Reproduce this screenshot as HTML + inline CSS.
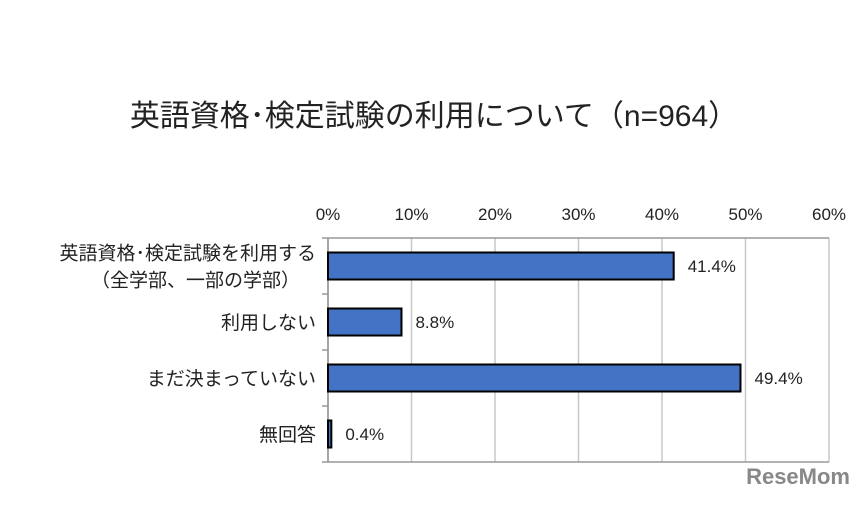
<!DOCTYPE html>
<html><head><meta charset="utf-8"><style>
body{margin:0;background:#fff;width:864px;height:500px;overflow:hidden;font-family:"Liberation Sans","Noto Sans CJK JP",sans-serif}
</style></head><body>
<svg width="864" height="500" xmlns="http://www.w3.org/2000/svg" style="font-family:'Liberation Sans','Noto Sans CJK JP',sans-serif">
<text x="434" y="126" text-anchor="middle" font-size="30" fill="#222">英語資格･検定試験の利用について（n=964）</text>
<g id="g"></g>
<text x="850" y="484" text-anchor="end" font-size="22" font-weight="bold" fill="#888">ReseMom</text>
</svg>
<script>
const categories=[["英語資格･検定試験を利用する","（全学部、一部の学部）"],["利用しない"],["まだ決まっていない"],["無回答"]];
const values=[41.4,8.8,49.4,0.4];
const ticks=[0,10,20,30,40,50,60];
const X0=328,X1=829,Y0=238,Y1=462;
const x=v=>X0+(v/60)*(X1-X0);
const band=(Y1-Y0)/categories.length;
const g=document.getElementById('g');
const ns='http://www.w3.org/2000/svg';
function mk(t,a){const e=document.createElementNS(ns,t);for(const k in a)e.setAttribute(k,a[k]);g.appendChild(e);return e;}
ticks.forEach(t=>{
 const l=mk('line',{x1:x(t),x2:x(t),y1:Y0,y2:Y1,stroke:t===0?'#888':'#c8c8c8','stroke-width':1.5});
 
 
 const tx=mk('text',{x:x(t),y:220,'text-anchor':'middle','font-size':17,fill:'#222'});
 tx.textContent=t+'%';
 
 
});
const ax=mk('line',{x1:X0,x2:X1,y1:Y0,y2:Y0,stroke:'#999','stroke-width':1.5});


const bx=mk('line',{x1:X0,x2:X1,y1:Y1,y2:Y1,stroke:'#999','stroke-width':1.5});


for(let i=0;i<=categories.length;i++){
 const t=mk('line',{x1:X0-6,x2:X0,y1:Y0+i*band,y2:Y0+i*band,stroke:'#999','stroke-width':1.5});
 
 
}
categories.forEach((c,i)=>{
 const cy=Y0+band*(i+0.5);
 const r=mk('rect',{x:X0,y:cy-13.5,width:Math.max(x(values[i])-X0,2),height:27,fill:'#4472c4',stroke:'#000','stroke-width':2});
 
 
 const v=mk('text',{x:x(values[i])+14,y:cy+6,'font-size':17,fill:'#222'});
 v.textContent=values[i].toFixed(1)+'%';
 
 
 c.forEach((line,j)=>{
  const yy=cy+7+(j-(c.length-1)/2)*27;
  const tx=mk('text',{x:j===1?300:316,y:yy,'text-anchor':'end','font-size':19,fill:'#222'});
  tx.textContent=line;
  
  
 });
});
</script>
</body></html>
